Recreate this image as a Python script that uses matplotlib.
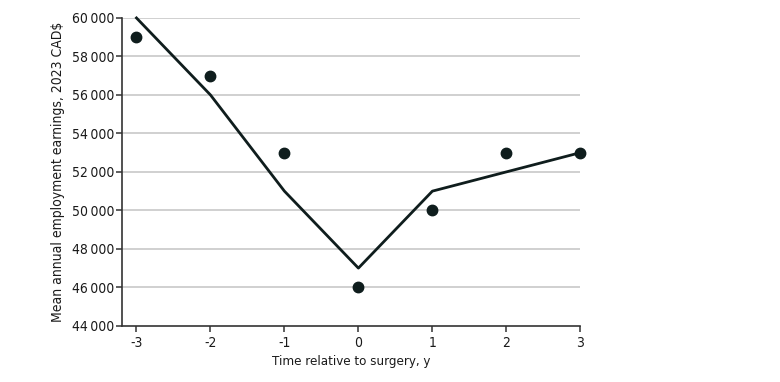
import matplotlib
matplotlib.use('Agg')
import matplotlib.pyplot as plt
from matplotlib.ticker import FuncFormatter

plt.rcParams['font.family'] = ['DejaVu Sans']
plt.rcParams['font.stretch'] = 'condensed'

years = [-3, -2, -1, 0, 1, 2, 3]
observed = [59000, 57000, 53000, 46000, 50000, 53000, 53000]
fitted = [60000, 56000, 51000, 47000, 51000, 52000, 53000]
y_ticks = list(range(44000, 60001, 2000))

INK = '#0f1d1d'

fig = plt.figure(figsize=(7.8, 3.82), dpi=100)
ax = fig.add_axes([0.156, 0.147, 0.588, 0.806])

# horizontal grid, skipping the baseline
for t in y_ticks[1:]:
    ax.axhline(t, color='#c8c8c8', lw=1.2, zorder=0)

ax.plot(years, fitted, color=INK, lw=2, zorder=3, clip_on=False)
ax.plot(years, observed, 'o', color=INK, ms=7.5, zorder=4, clip_on=False)

ax.set_xlim(-3.2, 3)
ax.set_ylim(44000, 60000)
ax.set_xticks(years)
ax.set_xticklabels([str(y) for y in years])
ax.set_yticks(y_ticks)
ax.yaxis.set_major_formatter(FuncFormatter(lambda v, p: '{:,}'.format(int(v)).replace(',', '\u2009')))

for s in ['top', 'right']:
    ax.spines[s].set_visible(False)
for s in ['left', 'bottom']:
    ax.spines[s].set_color('#333333')
    ax.spines[s].set_linewidth(1.2)
ax.tick_params(axis='both', colors='#333333', labelcolor='#1a1a1a', labelsize=10, length=4, width=1.1, pad=1)
ax.tick_params(axis='x', pad=3)

ax.set_xlabel('Time relative to surgery, y', fontsize=9.5, color='#1a1a1a', labelpad=4)
ax.set_ylabel('Mean annual employment earnings, 2023 CAD$', fontsize=10, color='#1a1a1a', labelpad=5)

fig.savefig('out.png', dpi=100)
